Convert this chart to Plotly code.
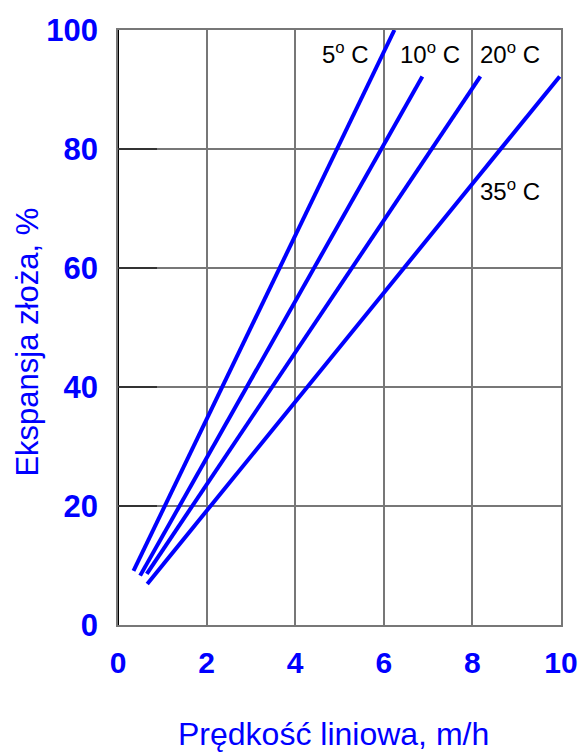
import plotly.graph_objects as go

# data
series_names = ["5<sup>o</sup> C", "10<sup>o</sup> C", "20<sup>o</sup> C", "35<sup>o</sup> C"]
x_5 = [0.35, 6.24]
y_5 = [9.1, 100]
x_10 = [0.50, 6.87]
y_10 = [8.3, 92.2]
x_20 = [0.65, 8.18]
y_20 = [8.6, 92.2]
x_35 = [0.66, 9.97]
y_35 = [6.9, 92.2]
label_x = [5.13, 7.05, 8.85, 8.85]
label_y = [96.1, 96.1, 96.1, 73.1]
x_ticks = [0, 2, 4, 6, 8, 10]
y_ticks = [0, 20, 40, 60, 80, 100]
dark_grid_x = [4, 8]

BLUE = "#0000ff"
FONT = "Liberation Sans, Arial"
fig = go.Figure()
for xs, ys in [(x_5, y_5), (x_10, y_10), (x_20, y_20), (x_35, y_35)]:
    fig.add_trace(go.Scatter(x=xs, y=ys, mode="lines",
                             line=dict(color=BLUE, width=4), showlegend=False, hoverinfo="skip"))

for name, lx, ly in zip(series_names, label_x, label_y):
    fig.add_annotation(x=lx, y=ly, text=name, showarrow=False,
                       font=dict(family=FONT, size=24, color="black"))

for gx in dark_grid_x:
    fig.add_shape(type="line", xref="x", yref="paper", x0=gx, x1=gx, y0=0, y1=1,
                  line=dict(color="black", width=1.2), layer="below")
fig.add_shape(type="line", xref="paper", yref="paper", x0=0, x1=0, y0=0, y1=1,
              line=dict(color="black", width=2), layer="below")

fig.add_annotation(xref="paper", yref="paper", x=0.486, y=-0.183, xanchor="center", yanchor="middle",
                   text="Prędkość liniowa, m/h", showarrow=False,
                   font=dict(family=FONT, size=32, color=BLUE))
fig.add_annotation(xref="paper", yref="paper", x=-0.205, y=0.475, xanchor="center", yanchor="middle",
                   textangle=-90, text="Ekspansja złoża, %", showarrow=False,
                   font=dict(family=FONT, size=31, color=BLUE))

fig.update_layout(
    width=578, height=752,
    margin=dict(l=118, r=17, t=30, b=127),
    plot_bgcolor="white", paper_bgcolor="white",
    xaxis=dict(range=[0, 10], tickvals=x_ticks, showgrid=True, gridcolor="#777777", gridwidth=1.5,
               zeroline=False, showline=True, linecolor="#777777", linewidth=1.5, mirror=True,
               ticks="", ticklabelstandoff=10, automargin=False,
               tickfont=dict(family=FONT, size=30, color=BLUE, weight="bold")),
    yaxis=dict(range=[0, 100], tickvals=y_ticks, showgrid=True, gridcolor="#777777", gridwidth=1.5,
               zeroline=False, showline=True, linecolor="#777777", linewidth=1.5, mirror=True,
               ticks="inside", ticklen=39, tickwidth=2, tickcolor="#333333", ticklabelstandoff=12,
               automargin=False,
               tickfont=dict(family=FONT, size=31, color=BLUE, weight="bold")),
)
fig.write_html("out.html", config={"displayModeBar": False},
               post_script="document.body.style.margin='0';document.body.style.overflow='hidden';")
